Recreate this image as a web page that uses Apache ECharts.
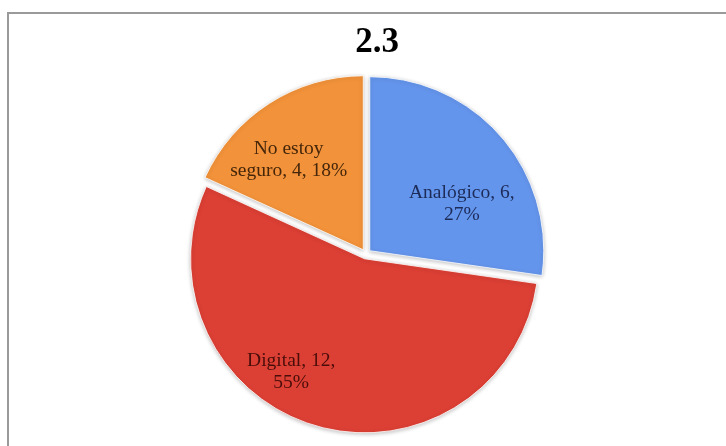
<!DOCTYPE html>
<html>
<head>
<meta charset="utf-8">
<style>
  html, body { margin: 0; padding: 0; background: #fff; }
  #chart { width: 726px; height: 446px; }
</style>
<script src="https://cdn.jsdelivr.net/npm/echarts@6/dist/echarts.min.js"></script>
</head>
<body>
<div id="chart"></div>
<script>
// Answers to question 2.3
const categories = ['Analógico', 'Digital', 'No estoy seguro'];
const counts = [6, 12, 4];
const percents = ['27%', '55%', '18%'];

const sliceColors = ['#6495ec', '#dc3f34', '#f2923a'];
const labelColors = ['#1c2b58', '#4a0e0a', '#45260a'];
// nudges that move each label away from the slice bisector
const labelShift = [[24, 12], [-48, 27], [-26, -14]];

const chart = echarts.init(document.getElementById('chart'), null, { renderer: 'canvas' });

const data = categories.map((name, i) => ({
  name: name,
  value: counts[i],
  selected: true,
  itemStyle: { color: sliceColors[i] },
  label: { color: labelColors[i] }
}));

chart.setOption({
  animation: false,
  graphic: [{
    type: 'rect',
    shape: { x: 8, y: 13, width: 740, height: 460 },
    style: { fill: 'none', stroke: '#9a9a9a', lineWidth: 2 },
    silent: true
  }],
  title: {
    text: '2.3',
    left: 372,
    top: 20,
    textAlign: 'center',
    textStyle: {
      fontFamily: "'Liberation Serif', 'DejaVu Serif', serif",
      fontWeight: 'bold',
      fontSize: 35,
      color: '#000'
    }
  },
  series: [{
    type: 'pie',
    center: [366, 254],
    radius: [0, 174],
    startAngle: 90,
    clockwise: true,
    selectedMode: 'multiple',
    selectedOffset: 5,
    emphasis: { disabled: true },
    itemStyle: {
      borderColor: 'rgba(255,255,255,0.8)',
      borderWidth: 1,
      shadowColor: 'rgba(0,0,0,0.25)',
      shadowBlur: 4,
      shadowOffsetY: 1
    },
    label: {
      position: 'inside',
      fontFamily: "'Liberation Serif', 'DejaVu Serif', serif",
      fontSize: 19.5,
      lineHeight: 22,
      align: 'center',
      formatter: (p) => {
        const i = p.dataIndex;
        if (i === 2) return 'No estoy\nseguro, ' + counts[i] + ', ' + percents[i];
        return categories[i] + ', ' + counts[i] + ',\n' + percents[i];
      }
    },
    labelLayout: (params) => {
      const s = labelShift[params.dataIndex];
      return { dx: s[0], dy: s[1] };
    },
    data: data
  }]
});
</script>
</body>
</html>
